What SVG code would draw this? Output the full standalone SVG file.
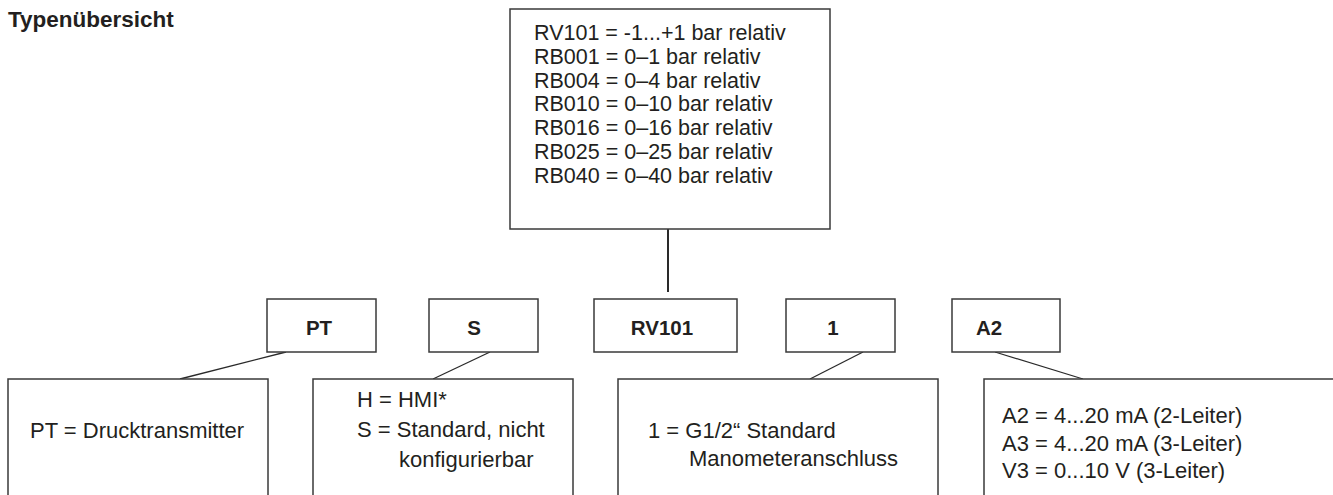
<svg xmlns="http://www.w3.org/2000/svg" width="1333" height="495" viewBox="0 0 1333 495">
<style>
.box{fill:#fff;stroke:#3a3a3a;stroke-width:1.5}
.ln{stroke:#2a2a2a;stroke-width:1.3;fill:none}
.stem{stroke:#2a2a2a;stroke-width:2;fill:none}
text{font-family:"Liberation Sans",Arial,sans-serif;fill:#231f20}
.t{font-size:21.5px}
.d{font-size:22px}
.b{font-size:20.5px;font-weight:bold;text-anchor:middle}
.h{font-size:22.5px;font-weight:bold}
</style>
<rect width="1333" height="495" fill="#fff"/>
<text class="h" x="8" y="27">Typenübersicht</text>
<g id="connectors">
<line class="stem" x1="668" y1="229" x2="668" y2="292"/>
<line class="ln" x1="286" y1="352" x2="180" y2="379"/>
<line class="ln" x1="490" y1="352" x2="433" y2="379"/>
<line class="ln" x1="863" y1="352" x2="810" y2="379"/>
<line class="ln" x1="995" y1="352" x2="1083" y2="379"/>
</g>
<g id="ranges">
<rect class="box" x="510" y="9" width="320" height="220"/>
<text class="t" x="534" y="40">RV101 = -1...+1 bar relativ</text>
<text class="t" x="534" y="63.8">RB001 = 0–1 bar relativ</text>
<text class="t" x="534" y="87.6">RB004 = 0–4 bar relativ</text>
<text class="t" x="534" y="111.4">RB010 = 0–10 bar relativ</text>
<text class="t" x="534" y="135.2">RB016 = 0–16 bar relativ</text>
<text class="t" x="534" y="159">RB025 = 0–25 bar relativ</text>
<text class="t" x="534" y="182.8">RB040 = 0–40 bar relativ</text>
</g>
<g id="code-pt">
<rect class="box" x="267" y="299" width="109" height="53"/>
<text class="b" x="319" y="335">PT</text>
</g>
<g id="code-s">
<rect class="box" x="429" y="299" width="109" height="53"/>
<text class="b" x="474" y="335">S</text>
</g>
<g id="code-rv101">
<rect class="box" x="594" y="299" width="143" height="53"/>
<text class="b" x="662" y="335">RV101</text>
</g>
<g id="code-1">
<rect class="box" x="786" y="299" width="109" height="53"/>
<text class="b" x="833" y="335">1</text>
</g>
<g id="code-a2">
<rect class="box" x="952" y="299" width="108" height="53"/>
<text class="b" x="989" y="335">A2</text>
</g>
<g id="desc-pt">
<rect class="box" x="8" y="379" width="260" height="130"/>
<text class="d" x="30" y="438">PT = Drucktransmitter</text>
</g>
<g id="desc-s">
<rect class="box" x="313" y="379" width="260" height="130"/>
<text class="d" x="357" y="407">H = HMI*</text>
<text class="d" x="357" y="437">S = Standard, nicht</text>
<text class="d" x="399" y="467">konfigurierbar</text>
</g>
<g id="desc-1">
<rect class="box" x="618" y="379" width="320" height="130"/>
<text class="d" x="648" y="438">1 = G1/2“ Standard</text>
<text class="d" x="689" y="466">Manometeranschluss</text>
</g>
<g id="desc-a2">
<rect class="box" x="984" y="379" width="400" height="130"/>
<text class="d" x="1002" y="423">A2 = 4...20 mA (2-Leiter)</text>
<text class="d" x="1002" y="451">A3 = 4...20 mA (3-Leiter)</text>
<text class="d" x="1002" y="478">V3 = 0...10 V (3-Leiter)</text>
</g>
</svg>
